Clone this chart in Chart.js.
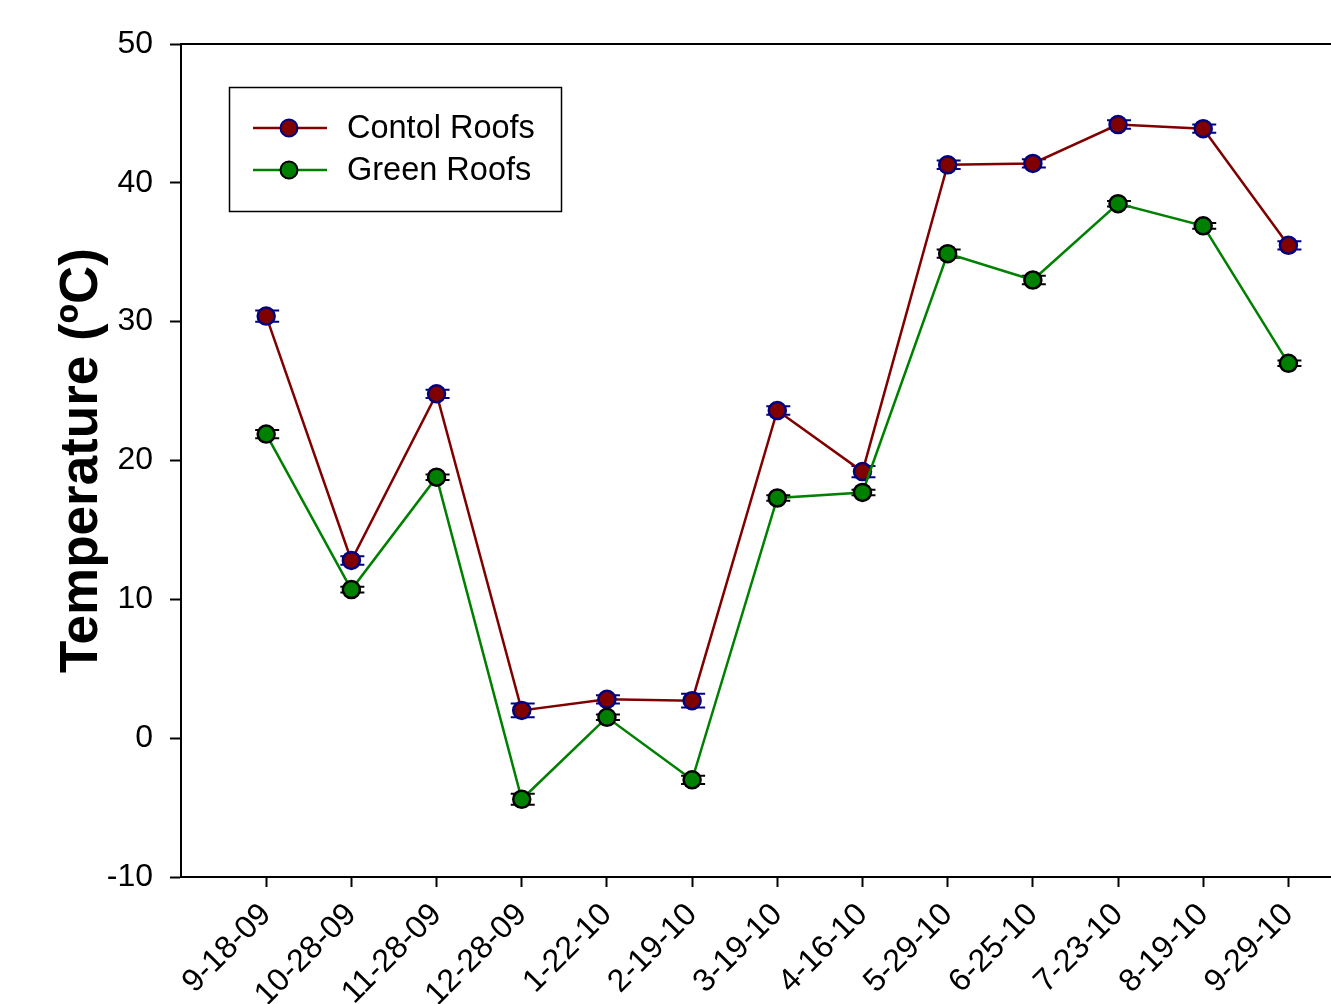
<!DOCTYPE html>
<html>
<head>
<meta charset="utf-8">
<title>Roof temperatures</title>
<script src="https://cdn.jsdelivr.net/npm/chart.js@4/dist/chart.umd.min.js"></script>
<style>
  html, body { margin: 0; padding: 0; background: #fff; }
  #wrap { width: 1331px; height: 1004px; }
</style>
</head>
<body>
<div id="wrap"><canvas id="chart" width="1331" height="1004"></canvas></div>
<script>
// Sampling dates
const dates = ['9-18-09', '10-28-09', '11-28-09', '12-28-09', '1-22-10', '2-19-10', '3-19-10',
               '4-16-10', '5-29-10', '6-25-10', '7-23-10', '8-19-10', '9-29-10'];

// Mean surface temperature (°C) and standard error
const controlTemps = [30.4, 12.8, 24.8, 2.0, 2.8, 2.7, 23.6, 19.2, 41.3, 41.4, 44.2, 43.9, 35.5];
const controlErr   = [0.4, 0.3, 0.3, 0.5, 0.3, 0.5, 0.3, 0.4, 0.3, 0.3, 0.3, 0.3, 0.3];
const greenTemps   = [21.9, 10.7, 18.8, -4.4, 1.5, -3.0, 17.3, 17.7, 34.9, 33.0, 38.5, 36.9, 27.0];
const greenErr     = [0.3, 0.2, 0.2, 0.4, 0.2, 0.3, 0.2, 0.2, 0.3, 0.3, 0.2, 0.2, 0.2];

const seriesNames = ['Contol Roofs', 'Green Roofs'];
const yTicks = [-10, 0, 10, 20, 30, 40, 50];

const FONT = '"Liberation Sans", Arial, sans-serif';

const toPoints = (vals) => vals.map((v, i) => ({ x: i + 1, y: v }));

// Error-bar caps drawn beneath each dataset's markers
const errorBars = {
  id: 'errorBars',
  beforeDatasetDraw(chart, args) {
    const ds = chart.data.datasets[args.index];
    if (!ds.errors) return;
    const meta = args.meta;
    const ys = chart.scales.y;
    const ctx = chart.ctx;
    ctx.save();
    ctx.strokeStyle = ds.errorColor;
    ctx.lineWidth = 2;
    meta.data.forEach((pt, i) => {
      const v = ds.data[i].y;
      const e = ds.errors[i];
      const yTop = ys.getPixelForValue(v + e);
      const yBot = ys.getPixelForValue(v - e);
      ctx.beginPath();
      ctx.moveTo(pt.x, yTop); ctx.lineTo(pt.x, yBot);
      ctx.moveTo(pt.x - 11, yTop); ctx.lineTo(pt.x + 13, yTop);
      ctx.moveTo(pt.x - 11, yBot); ctx.lineTo(pt.x + 13, yBot);
      ctx.stroke();
    });
    ctx.restore();
  }
};

// Top frame line and the boxed legend inside the plot
const frameAndLegend = {
  id: 'frameAndLegend',
  afterDraw(chart) {
    const ctx = chart.ctx;
    const a = chart.chartArea;
    ctx.save();
    ctx.strokeStyle = '#000';
    ctx.lineWidth = 2;
    ctx.beginPath();
    ctx.moveTo(a.left, a.top);
    ctx.lineTo(a.right, a.top);
    ctx.stroke();

    // legend box
    const bx = 229.5, by = 87.5, bw = 332, bh = 124;
    ctx.lineWidth = 1.5;
    ctx.strokeRect(bx, by, bw, bh);
    const rows = [128, 170];
    chart.data.datasets.forEach((ds, k) => {
      const y = rows[k];
      ctx.strokeStyle = ds.borderColor;
      ctx.lineWidth = 2.5;
      ctx.beginPath();
      ctx.moveTo(253, y); ctx.lineTo(327, y);
      ctx.stroke();
      ctx.beginPath();
      ctx.arc(289, y, 8.5, 0, Math.PI * 2);
      ctx.fillStyle = ds.pointBackgroundColor;
      ctx.fill();
      ctx.strokeStyle = ds.pointBorderColor;
      ctx.lineWidth = 2;
      ctx.stroke();
      ctx.fillStyle = '#000';
      ctx.font = '32.5px ' + FONT;
      ctx.textAlign = 'left';
      ctx.textBaseline = 'middle';
      ctx.fillText(ds.label, 347, y + 1);
    });
    ctx.restore();
  }
};

new Chart(document.getElementById('chart'), {
  type: 'line',
  data: {
    datasets: [
      {
        label: seriesNames[0],
        data: toPoints(controlTemps),
        errors: controlErr,
        errorColor: '#000080',
        borderColor: '#800000',
        borderWidth: 2.5,
        pointBackgroundColor: '#800000',
        pointBorderColor: '#000080',
        pointBorderWidth: 2.5,
        pointRadius: 8.5,
        tension: 0,
        clip: false,
        order: 1
      },
      {
        label: seriesNames[1],
        data: toPoints(greenTemps),
        errors: greenErr,
        errorColor: '#000000',
        borderColor: '#008000',
        borderWidth: 2.5,
        pointBackgroundColor: '#008000',
        pointBorderColor: '#000000',
        pointBorderWidth: 2.5,
        pointRadius: 8.5,
        tension: 0,
        clip: false,
        order: 0
      }
    ]
  },
  options: {
    responsive: false,
    animation: false,
    layout: { autoPadding: false, padding: { top: 44, right: 0, left: 0, bottom: 0 } },
    plugins: {
      legend: { display: false },
      tooltip: { enabled: false }
    },
    scales: {
      x: {
        type: 'linear',
        min: 0,
        max: 13.5,
        afterBuildTicks(scale) {
          scale.ticks = dates.map((_, i) => ({ value: i + 1 }));
        },
        afterFit(scale) {
          scale.height = 127;
          scale.paddingLeft = 0;
          scale.paddingRight = 0;
        },
        grid: { display: true, drawOnChartArea: false, tickLength: 10, tickWidth: 2, tickColor: '#000' },
        border: { display: true, color: '#000', width: 2 },
        ticks: {
          autoSkip: false,
          minRotation: 45,
          maxRotation: 45,
          padding: 9,
          color: '#000',
          font: { family: FONT, size: 32 },
          callback: (v) => dates[v - 1]
        }
      },
      y: {
        min: -10,
        max: 50,
        afterBuildTicks(scale) {
          scale.ticks = yTicks.map((v) => ({ value: v }));
        },
        afterFit(scale) {
          scale.width = 181;
          scale.paddingTop = 0;
          scale.paddingBottom = 0;
        },
        grid: { display: true, drawOnChartArea: false, tickLength: 11, tickWidth: 2, tickColor: '#000' },
        border: { display: true, color: '#000', width: 2 },
        ticks: {
          padding: 17,
          color: '#000',
          font: { family: FONT, size: 32 }
        },
        title: {
          display: true,
          text: 'Temperature (ºC)',
          color: '#000',
          font: { family: FONT, size: 53, weight: 'bold' },
          padding: { top: 51, bottom: 0 }
        }
      }
    }
  },
  plugins: [errorBars, frameAndLegend]
});
</script>
</body>
</html>
